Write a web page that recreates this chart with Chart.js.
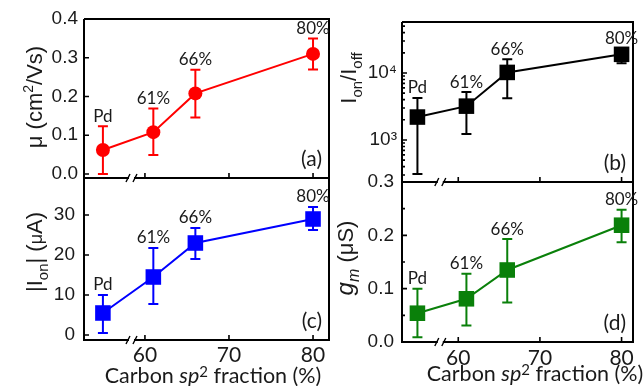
<!DOCTYPE html>
<html><head><meta charset="utf-8">
<script src="https://cdn.jsdelivr.net/npm/chart.js@4.4.0/dist/chart.umd.min.js"></script>
<style>
html,body{margin:0;padding:0;background:#fff;}
#wrap{position:relative;width:644px;height:386px;overflow:hidden;}
canvas{position:absolute;left:0;top:0;}
</style></head><body>
<div id="wrap">
<canvas id="pa" width="644" height="386"></canvas>
<canvas id="pb" width="644" height="386"></canvas>
<canvas id="pc" width="644" height="386"></canvas>
<canvas id="pd" width="644" height="386"></canvas>
</div>
<script>
// ---- data ----
const sampleLabels = ['Pd', '61%', '66%', '80%'];
const sp2Fraction = [55, 61, 66, 80];
const xTicks = [60, 70, 80];
const xTickLabels = ['60', '70', '80'];
const xBreakLeft = 58.4;
const xBreakRight = 57.8;

const mobility = [0.062, 0.108, 0.208, 0.31];
const mobilityLow = [0.0, 0.049, 0.146, 0.27];
const mobilityHigh = [0.123, 0.169, 0.269, 0.35];
const mobilityTicks = [0.0, 0.1, 0.2, 0.3, 0.4];
const mobilityTickLabels = ['0.0', '0.1', '0.2', '0.3', '0.4'];

const onOffRatio = [2200, 3200, 10200, 19000];
const onOffLow = [310, 1230, 4200, 14000];
const onOffHigh = [4250, 5200, 16000, 23000];
const onOffTicks = [1000, 10000];
const onOffTickLabels = ['10³', '10⁴'];

const onCurrent = [5.5, 14.5, 23, 29];
const onCurrentLow = [0.5, 7.75, 19, 26.25];
const onCurrentHigh = [10, 21.75, 26.75, 32];
const onCurrentTicks = [0, 10, 20, 30];
const onCurrentTickLabels = ['0', '10', '20', '30'];

const gm = [0.054, 0.081, 0.135, 0.219];
const gmLow = [0.009, 0.031, 0.074, 0.187];
const gmHigh = [0.10, 0.128, 0.193, 0.248];
const gmTicks = [0.0, 0.1, 0.2, 0.3];
const gmTickLabels = ['0.0', '0.1', '0.2', '0.3'];
const gmMinorTicks = [0.05, 0.15, 0.25];

// ---- drawing helpers ----
const SANS = '"Liberation Sans", Arial, sans-serif';
const HUM = 'Lato, "Open Sans", sans-serif';
const TXT = '#1a1a1a';

function richWidth(ctx, segs) {
  let w = 0;
  segs.forEach(s => { ctx.font = s.f; w += ctx.measureText(s.t).width; });
  return w;
}
function drawRich(ctx, segs, cx, cy, rot) {
  ctx.save();
  ctx.translate(cx, cy);
  if (rot) ctx.rotate(rot);
  const w = richWidth(ctx, segs);
  let x = -w / 2;
  ctx.fillStyle = TXT;
  ctx.textBaseline = 'alphabetic';
  ctx.textAlign = 'left';
  segs.forEach(s => {
    ctx.font = s.f;
    ctx.fillText(s.t, x, s.dy || 0);
    x += ctx.measureText(s.t).width;
  });
  ctx.restore();
}

const deco = {
  id: 'deco',
  beforeDatasetsDraw(chart, args, o) {
    const ctx = chart.ctx, xs = chart.scales.x, ys = chart.scales.y;
    ctx.save();
    ctx.strokeStyle = o.color;
    ctx.lineWidth = 2;
    o.xv.forEach((xv, i) => {
      const px = xs.getPixelForValue(xv);
      const pl = ys.getPixelForValue(o.lo[i]);
      const ph = ys.getPixelForValue(o.hi[i]);
      ctx.beginPath();
      ctx.moveTo(px, pl); ctx.lineTo(px, ph);
      ctx.moveTo(px - 5, pl); ctx.lineTo(px + 5, pl);
      ctx.moveTo(px - 5, ph); ctx.lineTo(px + 5, ph);
      ctx.stroke();
    });
    ctx.restore();
  },
  afterDatasetsDraw(chart, args, o) {
    const ctx = chart.ctx, a = chart.chartArea, xs = chart.scales.x, ys = chart.scales.y;
    ctx.save();
    // frame
    ctx.strokeStyle = '#000';
    ctx.lineWidth = 2;
    ctx.beginPath();
    ctx.moveTo(a.left, o.drawTop ? a.top : a.top + 1);
    ctx.lineTo(a.left, a.bottom);
    ctx.lineTo(a.right, a.bottom);
    ctx.lineTo(a.right, a.top);
    if (o.drawTop) ctx.lineTo(a.left, a.top);
    ctx.stroke();
    // inward ticks
    ctx.lineWidth = 1.6;
    ctx.beginPath();
    xTicks.forEach(v => {
      const px = xs.getPixelForValue(v);
      ctx.moveTo(px, a.bottom); ctx.lineTo(px, a.bottom - 5);
    });
    ys.ticks.forEach(t => {
      const py = ys.getPixelForValue(t.value);
      ctx.moveTo(a.left, py); ctx.lineTo(a.left + 5, py);
    });
    (o.minor || []).forEach(v => {
      const py = ys.getPixelForValue(v);
      ctx.moveTo(a.left, py); ctx.lineTo(a.left + 3, py);
    });
    ctx.stroke();
    // axis break
    const bx = xs.getPixelForValue(o.brk), by = a.bottom;
    ctx.fillStyle = '#fff';
    ctx.fillRect(bx - 2.5, by - 3, 5, 6);
    ctx.strokeStyle = '#000';
    ctx.lineWidth = 1.4;
    ctx.beginPath();
    ctx.moveTo(bx - 5.5, by + 4); ctx.lineTo(bx - 1.5, by - 4);
    ctx.moveTo(bx + 1.5, by + 4); ctx.lineTo(bx + 5.5, by - 4);
    ctx.stroke();
    // point annotations
    ctx.fillStyle = TXT;
    ctx.font = '17px ' + HUM;
    ctx.textAlign = 'center';
    ctx.textBaseline = 'middle';
    o.xv.forEach((xv, i) => {
      const px = xs.getPixelForValue(xv);
      const ph = ys.getPixelForValue(o.hi[i]);
      ctx.fillText(sampleLabels[i], px, ph - 10);
    });
    // panel letter
    ctx.font = '21px ' + HUM;
    ctx.textAlign = 'right';
    ctx.fillText(o.letter, a.right - 7, a.bottom - 19);
    ctx.restore();
    // axis titles
    drawRich(ctx, o.ytitle, o.ytx, o.yty, -Math.PI / 2);
    if (o.xtitle) drawRich(ctx, o.xtitle, o.xtx, o.xty, 0);
  }
};

const XH = 40, YW = 60, W = 644, H = 386;

function makePanel(id, p) {
  const yScale = {
    type: p.logY ? 'logarithmic' : 'linear',
    min: p.ymin, max: p.ymax,
    afterFit: s => { s.width = YW; },
    afterBuildTicks: s => { s.ticks = p.yticks.map(v => ({ value: v })); },
    grid: { display: false, drawTicks: false },
    border: { display: false },
    ticks: {
      autoSkip: false,
      padding: p.ypad,
      color: TXT,
      font: { family: SANS, size: 19 },
      callback: (v, i) => p.ylabels[i]
    }
  };
  return new Chart(document.getElementById(id), {
    type: 'line',
    data: {
      datasets: [{
        data: sp2Fraction.map((x, i) => ({ x: x, y: p.y[i] })),
        borderColor: p.color,
        backgroundColor: p.color,
        borderWidth: 2,
        pointStyle: p.pstyle,
        pointRadius: p.prad,
        pointBorderWidth: 0,
        pointBorderColor: p.color,
        tension: 0,
        clip: false
      }]
    },
    options: {
      responsive: false,
      animation: false,
      events: [],
      layout: { padding: { left: p.area[0] - YW, top: p.area[1], right: W - p.area[2], bottom: H - p.area[3] - XH } },
      plugins: {
        legend: { display: false },
        tooltip: { enabled: false },
        deco: {
          color: p.color, xv: sp2Fraction, lo: p.lo, hi: p.hi, brk: p.brk,
          letter: p.letter, drawTop: p.drawTop, minor: p.minor,
          ytitle: p.ytitle, ytx: p.ytx, yty: p.yty,
          xtitle: p.xtitle, xtx: p.xtx, xty: p.xty
        }
      },
      scales: {
        x: {
          type: 'linear', min: p.xmin, max: p.xmax,
          afterFit: s => { s.height = XH; },
          afterBuildTicks: s => { s.ticks = xTicks.map(v => ({ value: v })); },
          grid: { display: false, drawTicks: false },
          border: { display: false },
          ticks: {
            display: p.showX, autoSkip: false, maxRotation: 0, padding: p.xpad,
            color: TXT, font: { family: HUM, size: 21 },
            callback: (v, i) => xTickLabels[i]
          }
        },
        y: yScale
      }
    },
    plugins: [deco]
  });
}

const F = (s) => s + 'px ' + SANS;
const FI = (s) => 'italic ' + s + 'px ' + SANS;
const xTitle = [
  { t: 'Carbon ', f: '21.5px ' + HUM },
  { t: 'sp', f: 'italic 21.5px ' + HUM },
  { t: '2', f: '15px ' + HUM, dy: -6 },
  { t: ' fraction (%)', f: '21.5px ' + HUM }
];

makePanel('pa', {
  area: [84, 19, 329, 178], xmin: 52.75, xmax: 81.9, ymin: -0.0103, ymax: 0.4,
  y: mobility, lo: mobilityLow, hi: mobilityHigh, yticks: mobilityTicks, ylabels: mobilityTickLabels,
  color: '#ff0000', pstyle: 'circle', prad: 7, brk: xBreakLeft, letter: '(a)', drawTop: true,
  showX: false, xpad: 4, ypad: 6,
  ytitle: [{ t: 'μ (cm', f: F(22) }, { t: '2', f: F(14), dy: -9 }, { t: '/Vs)', f: F(22) }], ytx: 42, yty: 97
});
makePanel('pc', {
  area: [84, 178, 329, 340], xmin: 52.75, xmax: 81.9, ymin: -1.25, ymax: 39.25,
  y: onCurrent, lo: onCurrentLow, hi: onCurrentHigh, yticks: onCurrentTicks, ylabels: onCurrentTickLabels,
  color: '#0000ff', pstyle: 'rect', prad: 11, brk: xBreakLeft, letter: '(c)', drawTop: false,
  showX: true, xpad: 3, ypad: 9,
  ytitle: [{ t: '|I', f: F(22) }, { t: 'on', f: F(15), dy: 6 }, { t: '| (', f: F(22) }, { t: 'μ', f: F(18) }, { t: 'A)', f: F(22) }], ytx: 42, yty: 252,
  xtitle: xTitle, xtx: 213, xty: 383
});
makePanel('pb', {
  area: [402, 22, 642, 182], xmin: 53.11, xmax: 81.4, ymin: 236, ymax: 57700, logY: true,
  y: onOffRatio, lo: onOffLow, hi: onOffHigh, yticks: onOffTicks, ylabels: onOffTickLabels,
  minor: [300, 400, 500, 600, 700, 800, 900, 2000, 3000, 4000, 5000, 6000, 7000, 8000, 9000, 20000, 30000, 40000, 50000],
  color: '#000000', pstyle: 'rect', prad: 11, brk: xBreakRight, letter: '(b)', drawTop: true,
  showX: false, xpad: 4, ypad: 5,
  ytitle: [{ t: 'I', f: F(22) }, { t: 'on', f: F(15), dy: 6 }, { t: '/I', f: F(22) }, { t: 'off', f: F(15), dy: 6 }], ytx: 356, yty: 78
});
makePanel('pd', {
  area: [402, 182, 642, 342], xmin: 53.11, xmax: 81.4, ymin: 0, ymax: 0.3,
  y: gm, lo: gmLow, hi: gmHigh, yticks: gmTicks, ylabels: gmTickLabels, minor: gmMinorTicks,
  color: '#0a800a', pstyle: 'rect', prad: 11, brk: xBreakRight, letter: '(d)', drawTop: false,
  showX: true, xpad: 4, ypad: 8,
  ytitle: [{ t: 'g', f: FI(24) }, { t: 'm', f: FI(16), dy: 6 }, { t: ' (μS)', f: F(22) }], ytx: 353, yty: 258,
  xtitle: xTitle, xtx: 535, xty: 381
});
</script>
</body></html>
